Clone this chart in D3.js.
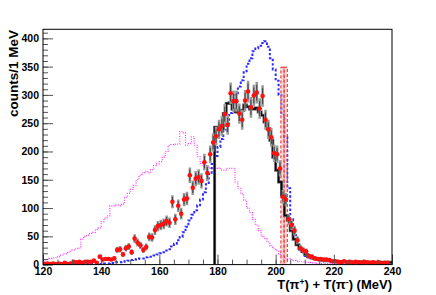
<!DOCTYPE html>
<html><head><meta charset="utf-8">
<script src="https://cdn.jsdelivr.net/npm/d3@7/dist/d3.min.js"></script>
<style>body{margin:0;background:#fff}svg{display:block}</style>
</head><body>
<svg id="chart" width="436" height="295"></svg>
<script>
// ---------- data (1 MeV bins, low edge listed) ----------
const histStart = 120;
const magentaCounts = [
  6,9,11,12,12,14,17,19,21,24,
  26,28,29,45,50,52,55,57,62,65,
  76,82,86,104,104,105,104,107,119,126,
  133,140,150,158,162,165,162,168,175,178,
  182,190,200,211,212,213,213,235,233,211,
  214,226,211,191,179,173,173,170,170,170,
  171,167,167,170,170,170,146,135,125,114,
  100,92,80,70,60,50,46,40,33,28,
  25,18,13,11,10,9,7,6,5,5,
  4,4,3,3,2,2,3,2,2,2,
  2,1,2,2,1,2,1,1,2,1,
  1,1,2,1,1,1,1,2,1,1];
const blueCounts = [
  1,1,1,1,1,1,1,1,1,1,
  1,1,1,1,1,1,1,1,1,1,
  1,2,2,3,3,4,4,5,6,7,
  8,9,10,11,11,13,14,14,16,18,
  20,22,25,27,32,37,43,49,57,67,
  78,88,96,105,115,128,142,160,178,192,
  208,222,237,250,268,285,300,315,326,340,
  355,365,377,382,387,392,395,385,365,345,
  325,300,265,225,135,80,52,34,24,20,
  15,13,11,10,9,8,7,7,6,6,
  5,5,4,4,4,4,3,3,3,3,
  3,3,3,3,2,2,2,2,2,2];
const fitStart = 179;
const fitCounts = [
  243,243,240,267,285,286,275,270,273,273,
  282,279,275,275,277,270,264,252,240,220,
  190,167,146,123,87,79,60,45,35,29,
  23,18,14,12,11,9,8,8,7,7,
  6,6,5,5,5,5,5,5,5,5,
  5,4,4,4,4,4,4,4,4,4,4];
const dataStart = 120;
const dataCounts = [
  1,2,1,2,1,2,1,3,1,2,
  5,4,5,3,5,5,5,7,3,14,
  9,10,10,9,11,26,27,18,29,32,
  22,46,39,34,26,31,49,48,61,68,
  70,72,77,74,111,80,104,90,115,117,
  158,136,152,155,148,181,162,195,216,227,
  239,245,266,247,303,289,289,267,256,290,
  306,278,299,304,276,298,256,239,225,197,
  195,170,120,115,80,70,60,43,29,25,
  23,15,14,11,10,10,9,9,8,6,
  6,5,4,6,4,5,3,5,4,3,
  5,4,3,4,3,4,2,3,3];
const bandEdges = [201.8, 202.9, 204.0];
const bandHeight = 349;
const xTicks = [120,140,160,180,200,220,240];
const yTicks = [0,50,100,150,200,250,300,350,400];
const xDomain = [120, 240];
const yDomain = [0, 416];

// ---------- layout ----------
const svg = d3.select("#chart");
const L = 43, R = 392, T = 29.3, B = 264.6;
const x = d3.scaleLinear().domain(xDomain).range([L, R]);
const y = d3.scaleLinear().domain(yDomain).range([B, T]);
const font = "'Liberation Sans', Arial, Helvetica, sans-serif";

svg.append("clipPath").attr("id","clip").append("rect")
  .attr("x",L).attr("y",T).attr("width",R-L).attr("height",B-T);
const plot = svg.append("g").attr("clip-path","url(#clip)");

function stepPts(start, counts, fromZero){
  const pts = counts.map((c,i)=>[start+i, c]);
  pts.push([start+counts.length, counts[counts.length-1]]);
  if (fromZero) pts.unshift([start, 0]);
  return pts;
}
const stepLine = d3.line().x(d=>x(d[0])).y(d=>y(d[1])).curve(d3.curveStepAfter);

// magenta dotted
plot.append("path").attr("d", stepLine(stepPts(histStart, magentaCounts, true)))
  .attr("fill","none").attr("stroke","#ff33ff").attr("stroke-width",1.2)
  .attr("stroke-dasharray","1,1.4");
// blue dashed
plot.append("path").attr("d", stepLine(stepPts(histStart, blueCounts, true)))
  .attr("fill","none").attr("stroke","#2b2bff").attr("stroke-width",2)
  .attr("stroke-dasharray","2.4,2");
// red dashed band
for (let i=0;i<bandEdges.length-1;i++){
  plot.append("rect")
    .attr("x", x(bandEdges[i])).attr("y", y(bandHeight))
    .attr("width", x(bandEdges[i+1])-x(bandEdges[i]))
    .attr("height", y(0)-y(bandHeight))
    .attr("fill","#ffb0b0").attr("fill-opacity",0.5)
    .attr("stroke","#e02020").attr("stroke-width",1)
    .attr("stroke-dasharray","3,2");
}
// fit histogram
const fitPath = stepLine(stepPts(fitStart, fitCounts, true));
plot.append("path").attr("d", fitPath).attr("fill","none")
  .attr("stroke","#5a5a5a").attr("stroke-width",3);
plot.append("path").attr("d", fitPath).attr("fill","none")
  .attr("stroke","#000").attr("stroke-width",1.3);

// data points
const pts = dataCounts.map((c,i)=>({v: dataStart+i+0.5, c}));
const gp = plot.append("g");
gp.selectAll("line.sys").data(pts).join("line").attr("class","sys")
  .attr("x1",d=>x(d.v)).attr("x2",d=>x(d.v))
  .attr("y1",d=>y(d.c+1.1*Math.sqrt(d.c))).attr("y2",d=>y(Math.max(0,d.c-1.1*Math.sqrt(d.c))))
  .attr("stroke","#9a9a9a").attr("stroke-width",2.6);
gp.selectAll("line.stat").data(pts).join("line").attr("class","stat")
  .attr("x1",d=>x(d.v)).attr("x2",d=>x(d.v))
  .attr("y1",d=>y(d.c+0.8*Math.sqrt(d.c))).attr("y2",d=>y(Math.max(0,d.c-0.8*Math.sqrt(d.c))))
  .attr("stroke","#333").attr("stroke-width",0.9);
gp.selectAll("circle").data(pts).join("circle")
  .attr("cx",d=>x(d.v)).attr("cy",d=>y(d.c)).attr("r",2.3)
  .attr("fill","#ff1010");

// ---------- axes ----------
const tickColor = "#555";
function styleAxis(g){
  g.select(".domain").remove();
  g.selectAll(".tick line").attr("stroke", tickColor);
  g.selectAll("text").attr("font-family", font).attr("font-weight","bold")
    .attr("font-size", 10.5).attr("fill","#000");
}
svg.append("g").attr("transform",`translate(${L},0)`)
  .call(d3.axisLeft(y).tickValues(d3.range(0, 416, 10)).tickSize(-5).tickFormat(""))
  .call(styleAxis);
svg.append("g").attr("transform",`translate(${L},0)`)
  .call(d3.axisLeft(y).tickValues(yTicks).tickSize(-10).tickPadding(4).tickFormat(d3.format("d")))
  .call(styleAxis);
svg.append("g").attr("transform",`translate(0,${B})`)
  .call(d3.axisBottom(x).tickValues(d3.range(120, 241, 5)).tickSize(-5).tickFormat(""))
  .call(styleAxis);
svg.append("g").attr("transform",`translate(0,${B})`)
  .call(d3.axisBottom(x).tickValues(xTicks).tickSize(-10).tickPadding(3).tickFormat(d3.format("d")))
  .call(styleAxis);

// frame
svg.append("rect").attr("x",L).attr("y",T).attr("width",R-L).attr("height",B-T)
  .attr("fill","none").attr("stroke","#000").attr("stroke-width",1);

// titles
svg.append("text").attr("transform","translate(18,30) rotate(-90)")
  .attr("text-anchor","end").attr("font-family",font).attr("font-weight","bold")
  .attr("font-size",13.5).text("counts/1 MeV");
const xt = svg.append("text").attr("x",R).attr("y",289).attr("text-anchor","end")
  .attr("font-family",font).attr("font-weight","bold").attr("font-size",13);
xt.append("tspan").text("T(π");
xt.append("tspan").attr("font-size",8.5).attr("dy",-4.5).text("+");
xt.append("tspan").attr("dy",4.5).text(") + T(π");
xt.append("tspan").attr("font-size",8.5).attr("dy",-4.5).text("-");
xt.append("tspan").attr("dy",4.5).text(") (MeV)");
</script>
</body></html>
